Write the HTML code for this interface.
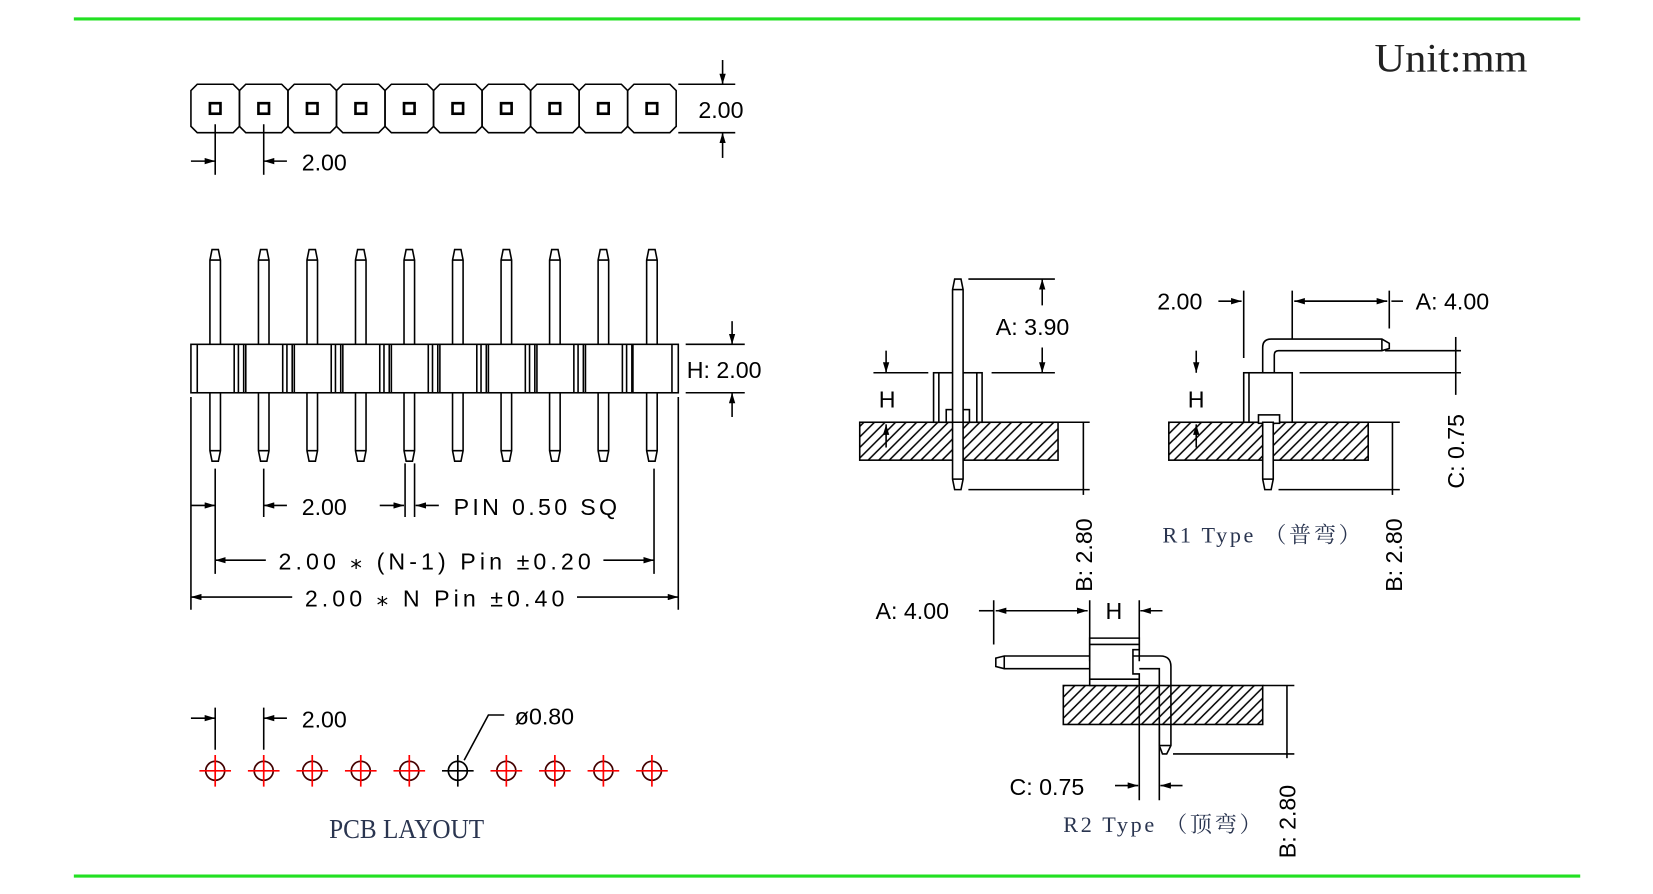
<!DOCTYPE html>
<html><head><meta charset="utf-8"><style>
html,body{margin:0;padding:0;background:#fff;}
svg{display:block;}
.t{font-family:"Liberation Sans","Noto Sans CJK SC",sans-serif;font-size:22px;fill:#000;}
.s{font-family:"Liberation Serif","Noto Serif CJK SC",serif;fill:#2a3550;}
</style></head><body>
<svg width="1653" height="894" viewBox="0 0 1567 849" preserveAspectRatio="none" xmlns="http://www.w3.org/2000/svg">
<defs>
<pattern id="h" patternUnits="userSpaceOnUse" width="10" height="10">
<path d="M-1,11 L11,-1 M-1,1 L1,-1 M9,11 L11,9" stroke="#000" stroke-width="1.4"/>
</pattern>
<marker id="a" markerWidth="10" markerHeight="6" refX="10" refY="3" orient="auto" markerUnits="userSpaceOnUse"><path d="M0,0 L10,3 L0,6 z" fill="#000"/></marker>
</defs>
<line x1="70" y1="18" x2="1498" y2="18" stroke="#22e022" stroke-width="3"/>
<line x1="70" y1="832" x2="1498" y2="832" stroke="#22e022" stroke-width="3"/>
<text x="1303" y="68" class="s" font-size="38" textLength="145" lengthAdjust="spacingAndGlyphs" style="fill:#222">Unit:mm</text>

<g stroke="#000" stroke-width="1.5" fill="none">
<g id="pads">
<path d="M187,80 H221 L227,86 V120 L221,126 H187 L181,120 V86 Z"/>
<path d="M233,80 H267 L273,86 V120 L267,126 H233 L227,120 V86 Z"/>
<path d="M279,80 H313 L319,86 V120 L313,126 H279 L273,120 V86 Z"/>
<path d="M325,80 H359 L365,86 V120 L359,126 H325 L319,120 V86 Z"/>
<path d="M371,80 H405 L411,86 V120 L405,126 H371 L365,120 V86 Z"/>
<path d="M417,80 H451 L457,86 V120 L451,126 H417 L411,120 V86 Z"/>
<path d="M463,80 H497 L503,86 V120 L497,126 H463 L457,120 V86 Z"/>
<path d="M509,80 H543 L549,86 V120 L543,126 H509 L503,120 V86 Z"/>
<path d="M555,80 H589 L595,86 V120 L589,126 H555 L549,120 V86 Z"/>
<path d="M601,80 H635 L641,86 V120 L635,126 H601 L595,120 V86 Z"/>
</g>
<g stroke-width="2.5">
<rect x="199" y="98" width="10" height="10"/><rect x="245" y="98" width="10" height="10"/><rect x="291" y="98" width="10" height="10"/><rect x="337" y="98" width="10" height="10"/><rect x="383" y="98" width="10" height="10"/><rect x="429" y="98" width="10" height="10"/><rect x="475" y="98" width="10" height="10"/><rect x="521" y="98" width="10" height="10"/><rect x="567" y="98" width="10" height="10"/><rect x="613" y="98" width="10" height="10"/>
</g>
<line x1="204" y1="118" x2="204" y2="166"/><line x1="250" y1="118" x2="250" y2="166"/>
<line x1="181" y1="153" x2="204" y2="153" marker-end="url(#a)"/>
<line x1="272" y1="153" x2="250" y2="153" marker-end="url(#a)"/>
<line x1="643" y1="80" x2="697" y2="80"/><line x1="643" y1="126" x2="697" y2="126"/>
<line x1="685" y1="57" x2="685" y2="80" marker-end="url(#a)"/>
<line x1="685" y1="150" x2="685" y2="126" marker-end="url(#a)"/>

<g id="pinset">
<path d="M199,327 V247 L201,237 H207 L209,247 V327 M199,373 V428 L201,438 H207 L209,428 V373 M199,247 H209 M199,428 H209"/>
</g>
<use href="#pinset" x="46"/><use href="#pinset" x="92"/><use href="#pinset" x="138"/><use href="#pinset" x="184"/><use href="#pinset" x="230"/><use href="#pinset" x="276"/><use href="#pinset" x="322"/><use href="#pinset" x="368"/><use href="#pinset" x="414"/>
<rect x="181" y="327" width="462" height="46"/>
<g id="div"><path d="M187,327 V373 M222,327 V373 M226,327 V373 M231,327 V373"/></g>
<use href="#div" x="46"/><use href="#div" x="92"/><use href="#div" x="138"/><use href="#div" x="184"/><use href="#div" x="230"/><use href="#div" x="276"/><use href="#div" x="322"/><use href="#div" x="368"/>
<path d="M637,327 V373 M600,327 V373"/>
<line x1="650" y1="327" x2="706" y2="327"/><line x1="650" y1="373" x2="706" y2="373"/>
<line x1="694" y1="305" x2="694" y2="327" marker-end="url(#a)"/>
<line x1="694" y1="396" x2="694" y2="373" marker-end="url(#a)"/>
<path d="M181,377 V579 M643,377 V579 M204,445 V545 M620,445 V545 M250,445 V491 M384,440 V491 M393,440 V491"/>
<line x1="181" y1="480" x2="204" y2="480" marker-end="url(#a)"/>
<line x1="272" y1="480" x2="250" y2="480" marker-end="url(#a)"/>
<line x1="360" y1="480" x2="383" y2="480" marker-end="url(#a)"/>
<line x1="416" y1="480" x2="394" y2="480" marker-end="url(#a)"/>
<line x1="252" y1="532" x2="204" y2="532" marker-end="url(#a)"/>
<line x1="572" y1="532" x2="620" y2="532" marker-end="url(#a)"/>
<line x1="277" y1="567" x2="181" y2="567" marker-end="url(#a)"/>
<line x1="547" y1="567" x2="643" y2="567" marker-end="url(#a)"/>

<path d="M204,672 V712 M250,672 V712"/>
<line x1="181" y1="682" x2="204" y2="682" marker-end="url(#a)"/>
<line x1="272" y1="682" x2="250" y2="682" marker-end="url(#a)"/>
<path d="M478,679 H463 L440,722"/>

<rect x="815" y="401" width="188" height="36" fill="url(#h)"/>
<rect x="885" y="354" width="46" height="47" fill="#fff"/>
<path d="M890,354 V401 M926,354 V401"/>
<rect x="897" y="389" width="22" height="12" fill="#fff"/>
<path d="M903,401 V275 L905,265 H911 L913,275 V401 Z" fill="#fff"/>
<path d="M903,275 H913"/>
<path d="M903,401 V455 L905,465 H911 L913,455 V401 Z" fill="#fff"/>
<path d="M903,455 H913"/>
<path d="M918,265 H1000 M940,354 H1000 M828,354 H880 M1003,401 H1033 M918,465 H1033"/>
<line x1="988" y1="290" x2="988" y2="265" marker-end="url(#a)"/>
<line x1="988" y1="330" x2="988" y2="354" marker-end="url(#a)"/>
<line x1="840" y1="333" x2="840" y2="354" marker-end="url(#a)"/>
<line x1="840" y1="425" x2="840" y2="403" marker-end="url(#a)"/>
<line x1="1027" y1="401" x2="1027" y2="470"/>

<rect x="1108" y="401" width="189" height="36" fill="url(#h)"/>
<rect x="1179" y="354" width="46" height="47" fill="#fff"/>
<path d="M1184,354 V401"/>
<rect x="1193" y="394" width="20" height="8" fill="#fff"/>
<path d="M1197,401 V455 L1199,465 H1205 L1207,455 V401 Z" fill="#fff"/>
<path d="M1197,455 H1207"/>
<path d="M1197,354 V330 Q1197,322 1205,322 H1310 L1317,326 V331 L1310,333 H1212 Q1208,333 1208,337 V354"/>
<path d="M1310,322 V333"/>
<path d="M1179,276 V340 M1225,276 V322 M1317,276 V312 M1313,333 H1385 M1232,354 H1385 M1297,401 H1327 M1212,465 H1327"/>
<line x1="1155" y1="286" x2="1177" y2="286" marker-end="url(#a)"/>
<line x1="1227" y1="286" x2="1315" y2="286" marker-end="url(#a)"/>
<line x1="1315" y1="286" x2="1227" y2="286" marker-end="url(#a)"/>
<line x1="1319" y1="286" x2="1330" y2="286"/>
<line x1="1134" y1="333" x2="1134" y2="354" marker-end="url(#a)"/>
<line x1="1134" y1="425" x2="1134" y2="403" marker-end="url(#a)"/>
<line x1="1380" y1="320" x2="1380" y2="375"/>
<line x1="1320" y1="401" x2="1320" y2="470"/>

<rect x="1008" y="651" width="189" height="37" fill="url(#h)"/>
<path d="M1033,651 V606 H1080 V617 H1074 V640 H1080 V651 Z" fill="#fff"/>
<path d="M1033,612 H1080 M1033,645 H1080"/>
<path d="M1033,623 H952 L944,625 V633 L952,635 H1033 M952,623 V635"/>
<path d="M1074,623 H1100 Q1110,623 1110,633 V708 L1106,716 H1102 L1099,708 V635 H1080"/>
<path d="M1099,708 H1110"/>
<path d="M942,570 V612 M1033,570 V628 M1080,570 V628 M1197,651 H1227 M1112,716 H1227 M1080,652 V760 M1099,690 V760"/>
<line x1="928" y1="580" x2="942" y2="580"/>
<line x1="944" y1="580" x2="1031" y2="580" marker-end="url(#a)"/>
<line x1="1031" y1="580" x2="944" y2="580" marker-end="url(#a)"/>
<line x1="1102" y1="580" x2="1081" y2="580" marker-end="url(#a)"/>
<line x1="1057" y1="746" x2="1079" y2="746" marker-end="url(#a)"/>
<line x1="1121" y1="746" x2="1100" y2="746" marker-end="url(#a)"/>
<line x1="1220" y1="651" x2="1220" y2="720"/>
</g>

<g id="hole" stroke-width="1.6" fill="none">
<circle cx="204" cy="732" r="9" stroke="#400"/>
<path d="M189,732 H219 M204,717 V747" stroke="#f00"/>
</g>
<use href="#hole" x="46"/><use href="#hole" x="92"/><use href="#hole" x="138"/><use href="#hole" x="184"/>
<g stroke-width="1.6" fill="none" stroke="#000"><circle cx="434" cy="732" r="9"/><path d="M419,732 H449 M434,717 V747"/></g>
<use href="#hole" x="276"/><use href="#hole" x="322"/><use href="#hole" x="368"/><use href="#hole" x="414"/>

<g class="t">
<text x="286" y="162">2.00</text>
<text x="662" y="112">2.00</text>
<text x="651" y="359">H: 2.00</text>
<text x="286" y="489">2.00</text>
<text x="430" y="489" textLength="155">PIN 0.50 SQ</text>
<text x="264" y="541" textLength="296">2.00 ⁎ (N-1) Pin ±0.20</text>
<text x="289" y="576" textLength="246">2.00 ⁎ N Pin ±0.40</text>
<text x="286" y="691">2.00</text>
<text x="488" y="688">ø0.80</text>
<text x="833" y="387">H</text>
<text x="944" y="318">A: 3.90</text>
<text x="1097" y="294">2.00</text>
<text x="1342" y="294">A: 4.00</text>
<text x="1126" y="387">H</text>
<text x="830" y="588">A: 4.00</text>
<text x="1048" y="588">H</text>
<text x="957" y="755">C: 0.75</text>
<text transform="translate(1035,562) rotate(-90)">B: 2.80</text>
<text transform="translate(1329,562) rotate(-90)">B: 2.80</text>
<text transform="translate(1388,464) rotate(-90)">C: 0.75</text>
<text transform="translate(1228,815) rotate(-90)">B: 2.80</text>
</g>
<text x="312" y="796" class="s" font-size="26" textLength="147" lengthAdjust="spacingAndGlyphs">PCB LAYOUT</text>
<text x="1102" y="515" class="s" font-size="21" textLength="188">R1 Type （普弯）</text>
<text x="1008" y="790" class="s" font-size="21" textLength="188">R2 Type （顶弯）</text>
</svg>
</body></html>
